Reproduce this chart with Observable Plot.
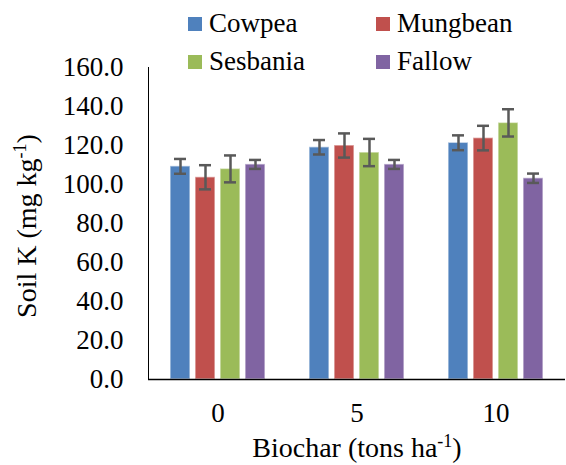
<!DOCTYPE html>
<html>
<head>
<meta charset="utf-8">
<script src="https://cdn.jsdelivr.net/npm/d3@7"></script>
<script src="https://cdn.jsdelivr.net/npm/@observablehq/plot@0.6"></script>
<style>
  body { margin: 0; background: #fff; }
  #chart { position: relative; width: 566px; height: 465px; }
  #chart svg text { font-family: 'Liberation Serif', 'Times New Roman', serif; }
</style>
</head>
<body>
<div id="chart"></div>
<script>
const biochar = ["0", "5", "10"];
const series = ["Cowpea", "Mungbean", "Sesbania", "Fallow"];
const colors = ["#4F81BD", "#C0504D", "#9BBB59", "#8064A2"];
const cowpea = [109.3, 119.1, 121.4];
const cowpeaErr = [3.8, 3.7, 3.8];
const mungbean = [103.7, 120.0, 123.8];
const mungbeanErr = [6.2, 6.2, 6.3];
const sesbania = [108.0, 116.4, 131.6];
const sesbaniaErr = [6.9, 7.0, 7.0];
const fallow = [110.3, 110.3, 103.2];
const fallowErr = [2.3, 2.3, 2.4];
const yTicks = [0, 20, 40, 60, 80, 100, 120, 140, 160];

const values = [cowpea, mungbean, sesbania, fallow];
const errs = [cowpeaErr, mungbeanErr, sesbaniaErr, fallowErr];
const data = [];
series.forEach((s, i) => biochar.forEach((b, j) => {
  data.push({series: s, biochar: b, value: values[i][j], err: errs[i][j]});
}));

const font = "'Liberation Serif', 'Times New Roman', serif";

const chart = Plot.plot({
  width: 566,
  height: 465,
  marginTop: 67,
  marginBottom: 86,
  marginLeft: 147,
  marginRight: 0,
  style: {fontFamily: font, fontSize: "27px", color: "#000", background: "#fff"},
  fx: {domain: biochar, padding: 0, label: null, tickSize: 0, tickPadding: 23},
  x: {domain: series, paddingInner: 0.21, paddingOuter: 0.87, axis: null},
  y: {domain: [0, 160], ticks: yTicks, tickFormat: d => d.toFixed(1), tickSize: 0, tickPadding: 25, label: null, line: true},
  color: {domain: series, range: colors},
  marks: [
    Plot.barY(data, {fx: "biochar", x: "series", y: "value", fill: "series", stroke: "#ffffff", strokeOpacity: 0.55, strokeWidth: 1.5}),
    Plot.ruleX(data, {fx: "biochar", x: "series", y1: d => d.value - d.err, y2: d => d.value + d.err, stroke: "#595959", strokeWidth: 2.5}),
    Plot.tickY(data, {fx: "biochar", x: "series", y: d => d.value - d.err, stroke: "#595959", strokeWidth: 2.5, insetLeft: 4, insetRight: 4}),
    Plot.tickY(data, {fx: "biochar", x: "series", y: d => d.value + d.err, stroke: "#595959", strokeWidth: 2.5, insetLeft: 4, insetRight: 4}),
    Plot.ruleY([0], {stroke: "#000", strokeWidth: 1.5})
  ]
});

document.getElementById("chart").appendChild(chart);

const svg = d3.select(chart);

// axis titles
const yl = svg.append("text")
  .attr("transform", "translate(36,226) rotate(-90)")
  .attr("text-anchor", "middle")
  .style("font-family", font)
  .style("font-size", "28px")
  .attr("fill", "#000");
yl.append("tspan").text("Soil K (mg kg");
yl.append("tspan").style("font-size", "18px").attr("dy", "-10").text("-1");
yl.append("tspan").attr("dy", "10").text(")");

const xl = svg.append("text")
  .attr("x", 357).attr("y", 457)
  .attr("text-anchor", "middle")
  .style("font-family", font)
  .style("font-size", "28px")
  .attr("fill", "#000");
xl.append("tspan").text("Biochar (tons ha");
xl.append("tspan").style("font-size", "18px").attr("dy", "-10").text("-1");
xl.append("tspan").attr("dy", "10").text(")");

// legend
const legCols = [188, 376];
const legRows = [17, 55];
const leg = svg.append("g");
series.forEach((s, i) => {
  const x = legCols[i % 2];
  const y = legRows[Math.floor(i / 2)];
  leg.append("rect").attr("x", x).attr("y", y).attr("width", 14).attr("height", 14).attr("fill", colors[i]);
  leg.append("text").attr("x", x + 21).attr("y", y + 15)
    .attr("text-anchor", "start")
    .style("font-family", font).style("font-size", "27px").attr("fill", "#000").text(s);
});
</script>
</body>
</html>
